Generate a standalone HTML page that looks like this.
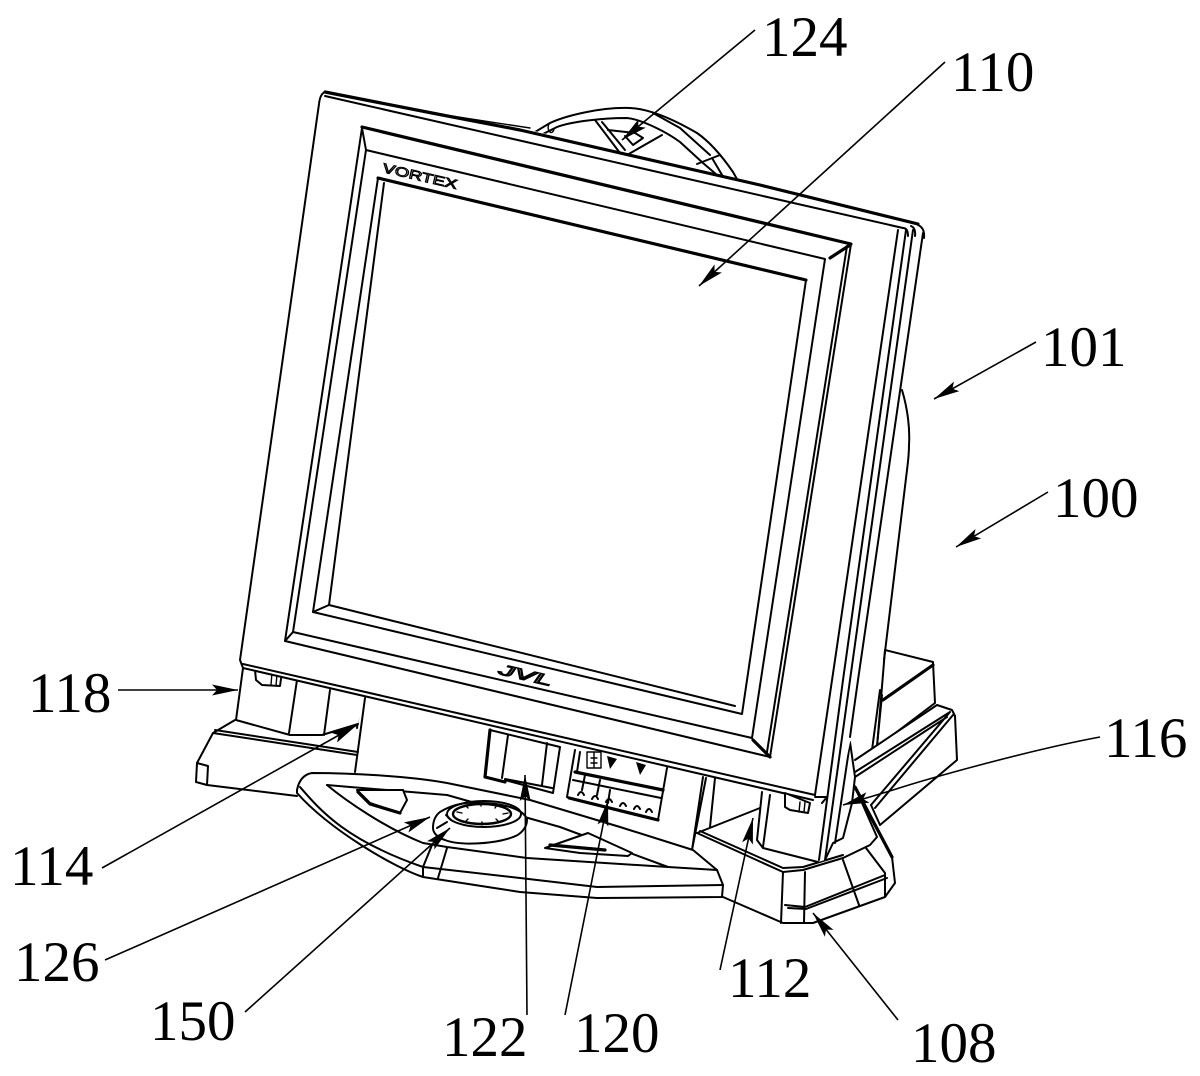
<!DOCTYPE html>
<html>
<head>
<meta charset="utf-8">
<style>
html,body{margin:0;padding:0;background:#fff;}
svg{display:block;}
.l{fill:none;stroke:#000;stroke-width:2;stroke-linejoin:round;stroke-linecap:round;}
.w{fill:#fff;stroke:#000;stroke-width:2;stroke-linejoin:round;}
.f{fill:#fff;stroke:none;}
.t{stroke-width:3.2;}
.s{stroke-width:1.4;}
.a{fill:none;stroke:#000;stroke-width:1.6;marker-end:url(#ah);}
.n{font-family:"Liberation Serif",serif;font-size:57px;fill:#000;}
</style>
</head>
<body>
<svg width="1200" height="1076" viewBox="0 0 1200 1076" xmlns="http://www.w3.org/2000/svg">
<defs>
<marker id="ah" markerUnits="userSpaceOnUse" markerWidth="28" markerHeight="14" refX="26" refY="6" orient="auto">
<path d="M0,0.5 L26,6 L0,11.5 L5,6 Z" fill="#000"/>
</marker>
</defs>
<rect width="1200" height="1076" fill="#fff"/>

<!-- handle at top -->
<path class="l" d="M530,135 L550,123 C565,116 600,107 630,108 C652,109 678,122 697,133 C710,142 722,156 733,172 L742,188"/>
<path class="l" d="M537,137 L557,127 C570,122 600,118 627,118 C640,119 665,131 680,142 L703,163 L717,175 L728,185"/>
<path class="l" d="M653,113 L680,128 L710,155"/>
<path class="l" d="M697,164 L720,155 M712,158 L728,185"/>
<path class="l" d="M595,120 L620,153 L627,155 L662,135 M602,122 L625,150"/>
<path class="l" d="M608,130 L635,133 L643,138 L633,145 L625,136"/>
<path class="l s" d="M549,124 a3,5 0 1 0 5,5"/>

<!-- rear base -->
<path class="w" d="M885,650 L933,662 L935,703 L877,747 Z"/>
<path class="l t" d="M883,700 L933,665"/>
<path class="l" d="M880,690 L872,750 M882,695 L877,746"/>
<path class="f" d="M855,760 L937,705 L952,710 L957,760 L880,825 L850,800 Z"/>
<path class="l" d="M855,760 L937,705 L952,710 L955,716 L957,760 L880,825"/>
<path class="l" d="M855,777 L947,717 M855,772 L950,712 M875,808 L953,715 M871,805 L950,712"/>
<path class="l" d="M871,805 L880,825"/>

<!-- stand back arc -->
<path class="l" d="M902,390 C908,410 910,430 909,445 C909,455 908,462 907,470 L884,660"/>

<!-- base right -->
<path class="f" d="M697,833 L855,787 L892,857 L895,883 L885,897 L813,923 L783,923 L723,897 L692,850 Z"/>
<path class="l" d="M697,833 L783,872 L803,870 L843,858 L870,845 L877,837 L855,787"/>
<path class="l" d="M700,831 L783,868 L803,867 L843,855"/>
<path class="l t" d="M855,787 L892,857"/>
<path class="l" d="M892,857 L895,883 L885,897 L813,923 L783,923 L723,897"/>
<path class="l" d="M783,872 L781,923 M805,872 L804,923 M843,860 L859,905 M866,848 L885,873 L885,897"/>
<path class="l" d="M785,905 L805,907 L885,875 M788,908 L806,909 L887,878"/>

<!-- center column -->
<path class="f" d="M365,698 L355,772 L690,860 L700,790 L715,790 L710,827 L760,808 L762,780 Z"/>
<path class="l" d="M706,778 L692,850 M703,777 L692,850 M715,778 L710,827 M697,833 L760,808"/>

<!-- base left -->
<path class="f" d="M235,720 L213,733 L197,763 L196,782 L207,785 L297,796 L355,790 L358,745 Z"/>
<path class="l" d="M235,720 L213,733 L197,763 L196,782 L207,785 L297,796"/>
<path class="l" d="M213,733 L357,755 M215,730 L358,752 M197,763 L208,766 L207,785"/>
<path class="l" d="M365,698 L355,772 M361,697 L357,728"/>

<!-- left foot -->
<path class="f" d="M243,662 L236,720 L290,735 L322,735 L358,725 L365,690 Z"/>
<path class="l" d="M243,668 L236,720 L290,735 L322,735 L358,724"/>
<path class="l" d="M297,680 L289,733 M330,690 L324,735"/>
<path class="w" d="M255,670 L256,680 L262,685 L280,686 L282,672 Z"/>
<path class="l s" d="M272,672 L271,685 M277,674 L276,686"/>

<!-- right foot -->
<path class="f" d="M762,792 L757,840 L763,848 L818,862 L825,860 L833,843 L843,838 L855,777 L850,720 L815,795 Z"/>
<path class="l" d="M762,792 L757,840 L763,848 L818,862 M770,795 L763,847"/>
<path class="l" d="M850,742 L855,777 L852,803 L843,838 L833,843 L825,860 M850,743 L835,843"/>

<!-- monitor body -->
<path class="f" d="M325,92 L530,130 L925,226 L923,233 L858,680 L850,742 L825,860 L818,860 L815,797 L243,668 L240,660 Z"/>
<path class="l t" d="M325,92 L432,113 L520,130 L760,185 L918,224"/>
<path class="l" d="M325,96 L903,228 M325,92 Q320,94 319,104 L240,660 L243,668"/>
<path class="l" d="M898,230 L835,660 L815,795 M906,230 L843,680 L819,860 M913,230 L850,680 L825,860 M923,233 L858,680 L850,737 M903,228 Q908,228 908,236 M911,226 Q916,228 915,236 M918,225 Q925,228 924,238"/>
<path class="l" d="M243,664 L815,795 M243,668 L813,800 M815,797 L827,797 L822,803"/>
<path class="l s" d="M432,113 L530,128"/>
<path class="w" d="M785,793 L785,807 L790,810 L808,813 L810,803 Z"/>
<path class="l s" d="M800,802 L799,812 M805,802 L804,812"/>

<!-- bezel -->
<path class="l t" d="M362,127 L851,244"/>
<path class="l" d="M362,128 L285,641 L770,757 L851,244 M847,246 L767,752 M362,128 L366,150 L825,259 L752,738 L293,632 L366,150"/>
<path class="l t" d="M830,258 L850,245 M753,740 L770,757"/>
<path class="l" d="M285,641 L293,632"/>
<path class="l" d="M378,178 L806,280 L742,714 L313,612 Z"/>
<path class="l" d="M384,183 L329,605 L735,706"/>
<path class="l" d="M313,612 L329,605"/>
<path class="l t" d="M378,178 L806,280"/>

<text x="0" y="0" transform="translate(382,172) rotate(13)" font-family="Liberation Sans,sans-serif" font-size="13" textLength="76" lengthAdjust="spacingAndGlyphs" fill="none" stroke="#000" stroke-width="1">VORTEX</text>
<text x="0" y="0" transform="translate(498,674) rotate(13)" font-family="Liberation Sans,sans-serif" font-size="15" font-style="italic" textLength="54" lengthAdjust="spacingAndGlyphs" fill="none" stroke="#000" stroke-width="1.2">JVL</text>

<!-- card slot 122 -->
<path class="l t" d="M490,730 L485,777 L505,782"/>
<path class="l" d="M490,730 L560,747 L553,793 L505,780 M508,735 L502,778 M547,743 L542,785 M505,779 L552,788"/>

<!-- panel 120 -->
<path class="l" d="M575,750 L567,797 L658,820 L667,768"/>
<path class="l t" d="M569,798 L658,820"/>
<path class="l t" d="M575,772 L663,790"/>
<path class="l" d="M573,780 L661,798 M580,752 L577,772 M585,775 L582,790 M600,780 L597,795 M610,790 L608,803"/>
<path class="l s" d="M587,752 h14 v16 h-14 z M591,758 h6 M591,763 h6 M594,752 v16"/>
<path d="M607,756 L617,759 L610,769 Z M636,762 L646,765 L640,775 Z" fill="#000"/>
<path class="l" d="M578,795 q3,-6 6,0 M592,799 q3,-6 6,0 M606,802 q3,-6 6,0 M620,806 q3,-6 6,0 M634,809 q3,-6 6,0 M646,812 q3,-6 6,0"/>

<!-- console -->
<path class="w" d="M297,790 Q300,775 312,773 C350,773 410,776 447,783 L530,800 L620,827 L693,850 L717,870 L723,885 L722,897 L597,898 L520,892 L423,877 C395,868 330,830 297,793 Z"/>
<path class="l" d="M327,785 L350,787 L447,795 L560,827 L668,867"/>
<path class="l" d="M327,785 C345,800 385,828 423,843 L447,847 L527,858 L668,867 L717,870"/>
<path class="l" d="M300,787 C320,810 345,840 423,867 L520,878 L597,887 L723,885"/>
<path class="l" d="M432,845 L423,867 L423,877 M447,848 L438,878"/>

<!-- button left -->
<path class="w" d="M357,790 L403,790 L407,800 L400,813 L370,803 Z"/>
<path class="l t" d="M358,792 L370,804 L400,813"/>
<!-- dial -->
<path class="w" d="M433,828 C433,820 436,815 440,812 C455,803 470,802 480,803 C505,803 525,810 527,820 C527,828 520,835 513,837 C495,844 460,846 445,840 C438,838 433,833 433,828 Z"/>
<ellipse class="l" cx="484" cy="814" rx="37" ry="13"/>
<ellipse class="l" cx="482" cy="814" rx="29" ry="10" style="stroke-width:2.4"/>
<path class="l s" d="M457,812 l5,1 M466,806 l2,2 M481,803 v3 M497,805 l-2,3 M508,813 l-5,1 M498,821 l-2,-2 M482,825 v-3 M466,821 l2,-2"/>
<path class="l" d="M437,828 L447,822 M446,815 L451,820"/>

<!-- button right -->
<path class="w" d="M545,848 L588,833 L632,853 L628,856 L580,853 Z"/>
<path class="l t" d="M550,845 L605,850"/>

<!-- leaders -->
<path class="a" d="M755,30 L622,140"/>
<path class="a" d="M945,62 L699,286"/>
<path class="a" d="M1036,342 L934,399"/>
<path class="a" d="M1048,492 L956,547"/>
<path class="a" d="M118,690 L238,690"/>
<path class="a" d="M1100,737 C1030,750 930,778 893,790 L843,805"/>
<path class="a" d="M102,868 L357,725"/>
<path class="a" d="M105,960 L430,817"/>
<path class="a" d="M245,1012 L450,828"/>
<path class="a" d="M527,1015 L525,775"/>
<path class="a" d="M565,1015 L608,800"/>
<path class="a" d="M720,970 L753,818"/>
<path class="a" d="M898,1020 L813,913"/>

<!-- labels -->
<text class="n" x="762" y="56">124</text>
<text class="n" x="951" y="91">110</text>
<text class="n" x="1041" y="366">101</text>
<text class="n" x="1053" y="517">100</text>
<text class="n" x="28" y="712">118</text>
<text class="n" x="1104" y="757">116</text>
<text class="n" x="10" y="885">114</text>
<text class="n" x="14" y="981">126</text>
<text class="n" x="150" y="1040">150</text>
<text class="n" x="442" y="1056">122</text>
<text class="n" x="574" y="1052">120</text>
<text class="n" x="728" y="997">112</text>
<text class="n" x="911" y="1062">108</text>
</svg>
</body>
</html>
